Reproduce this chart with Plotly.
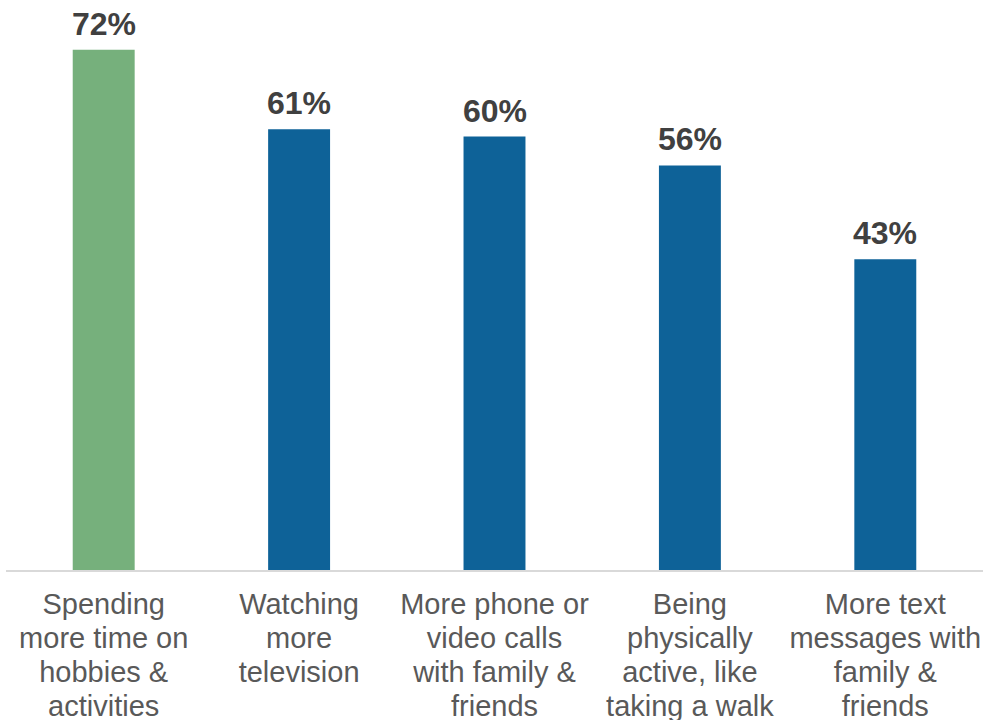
import plotly.graph_objects as go

categories = [
    "Spending<br>more time on<br>hobbies &<br>activities",
    "Watching<br>more<br>television",
    "More phone or<br>video calls<br>with family &<br>friends",
    "Being<br>physically<br>active, like<br>taking a walk",
    "More text<br>messages with<br>family &<br>friends",
]
values = [72, 61, 60, 56, 43]
bar_colors = ["#76B07C", "#0E6298", "#0E6298", "#0E6298", "#0E6298"]

ticktext = ["<br>".join('<span style="font-size:29px">' + ln + "</span>" for ln in c.split("<br>"))
            for c in categories]
xpos = list(range(len(values)))

fig = go.Figure(go.Bar(
    x=xpos,
    y=values,
    marker=dict(color=bar_colors, line=dict(width=0)),
    cliponaxis=False,
))

for xi, v in zip(xpos, values):
    fig.add_annotation(
        x=xi, y=v, xref="x", yref="y", text=f"<b>{v}%</b>", showarrow=False,
        yanchor="bottom", yshift=6,
        font=dict(family="Liberation Sans", size=32, color="#404040"),
    )

fig.update_layout(
    width=983, height=720,
    margin=dict(l=6, r=0, t=0, b=150, autoexpand=False),
    paper_bgcolor="white", plot_bgcolor="white",
    bargap=0.683,
    showlegend=False,
    font=dict(family="Liberation Sans", color="#595959"),
)
fig.update_xaxes(
    tickmode="array", tickvals=xpos, ticktext=ticktext,
    tickfont=dict(family="Liberation Sans", size=26, color="#595959"),
    showline=True, linecolor="#D9D9D9", linewidth=2,
    showgrid=False, zeroline=False, ticks="", tickangle=0,
    ticklabelstandoff=11, automargin=False,
    range=[-0.5, 4.5],
)
fig.update_yaxes(range=[0, 78.9], visible=False, showgrid=False, zeroline=False,
                 automargin=False)

fig.write_html(
    "out.html",
    config={"displayModeBar": False},
    post_script="document.body.style.margin='0';document.body.style.overflow='hidden';",
)
